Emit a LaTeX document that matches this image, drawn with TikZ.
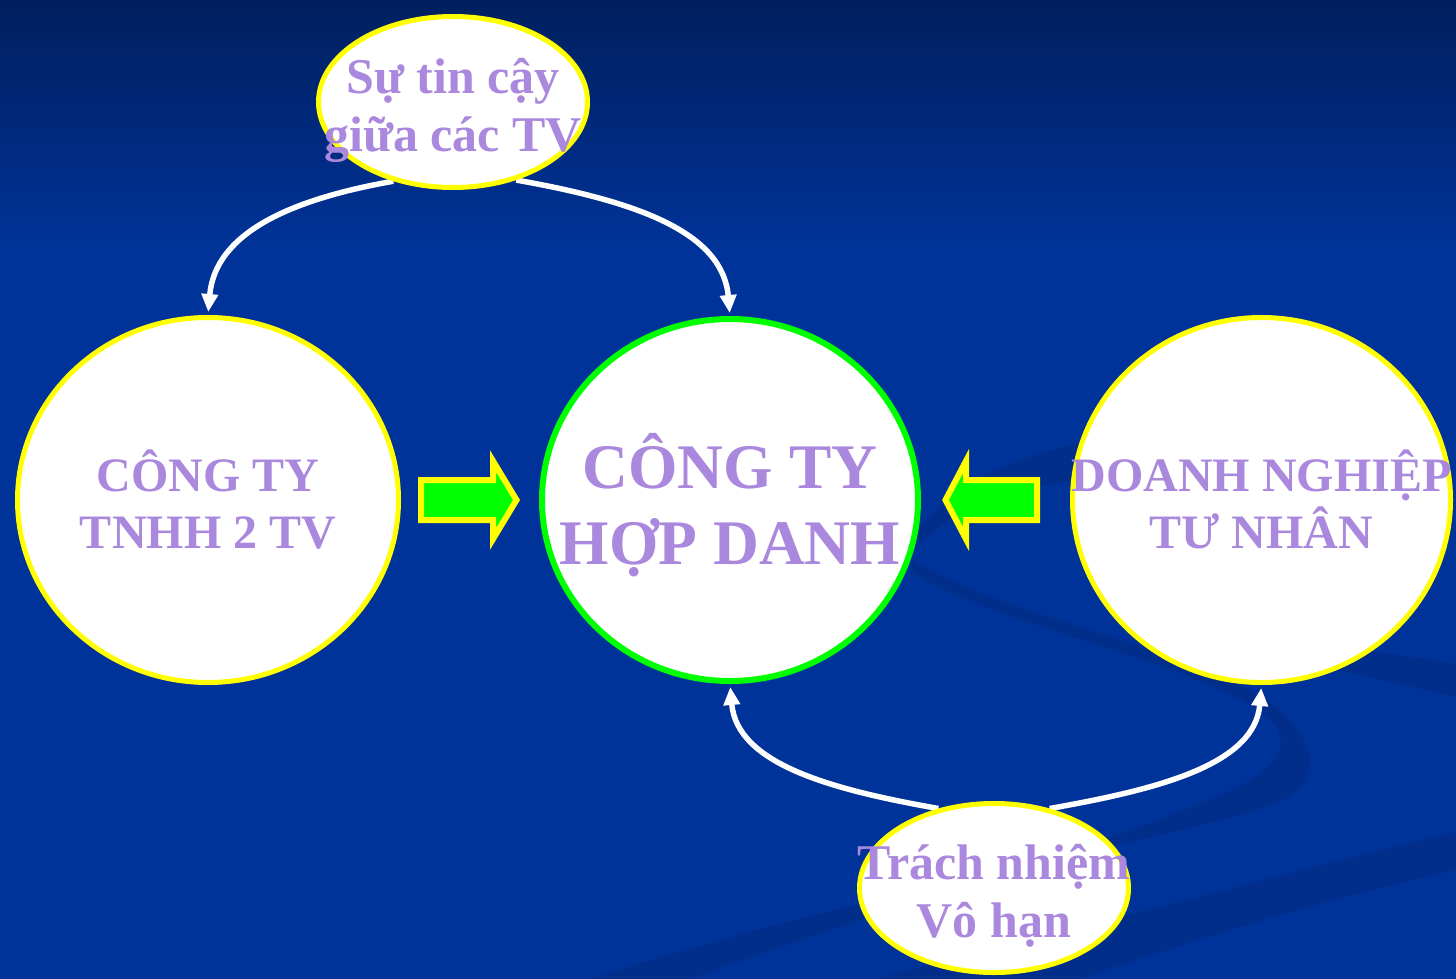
\documentclass[tikz,border=0pt]{standalone}
\usepackage{fontspec}
\setmainfont{Liberation Serif}
\usetikzlibrary{shapes.geometric,arrows.meta}
\definecolor{bgblue}{RGB}{0,51,153}
\definecolor{bgtop}{RGB}{0,31,94}
\definecolor{swoosh}{RGB}{0,46,138}
\definecolor{lav}{RGB}{170,136,221}
\definecolor{ylw}{RGB}{255,255,0}
\definecolor{grn}{RGB}{0,255,0}
\pgfdeclarelayer{bg}
\pgfdeclarelayer{links}
\pgfsetlayers{bg,links,main}

\begin{document}
\begin{tikzpicture}[x=1pt,y=-1pt,
  bubble/.style={ellipse, draw=ylw, line width=5pt, fill=white, inner sep=0pt},
  hub/.style={bubble, draw=grn, line width=6pt},
  txt/.style={text=lav, font=\bfseries\fontsize{48}{57}\selectfont, align=center, inner sep=0pt},
  smalltxt/.style={txt, font=\bfseries\fontsize{50}{58}\selectfont},
  bigtxt/.style={txt, font=\bfseries\fontsize{63.5}{76}\selectfont},
  link/.style={draw=white, line width=5.5pt, shorten >=3pt,
               -{Triangle[length=18pt,width=16pt]}},
  block/.style={draw=ylw, line width=6pt, fill=grn, line join=miter, miter limit=10}
]
\useasboundingbox (0,0) rectangle (1456,979);

% backdrop: gradient sky and darker swooshes
\begin{pgfonlayer}{bg}
  \fill[bgblue] (0,250) rectangle (1456,979);
  \shade[top color=bgtop, bottom color=bgblue] (0,0) rectangle (1456,251);
  % thin band rising from the hub towards the right bubble
  \fill[swoosh] (915,532) .. controls (960,482) and (1000,462) .. (1090,440)
        -- (1090,478) .. controls (1000,490) and (950,512) .. (915,548) -- cycle;
  \fill[swoosh] (1320,645) .. controls (1380,652) and (1420,658) .. (1456,664)
        -- (1456,697) .. controls (1420,688) and (1380,680) .. (1330,668) -- cycle;
  % hooked band
  \fill[swoosh] (912,560) .. controls (1000,615) and (1180,645) .. (1262,698)
        .. controls (1312,730) and (1330,778) .. (1280,801)
        .. controls (1200,836) and (900,880) .. (590,979)
        -- (690,979) .. controls (900,902) and (1150,832) .. (1240,786)
        .. controls (1290,760) and (1290,735) .. (1262,712)
        .. controls (1180,657) and (1000,627) .. (912,572) -- cycle;
  % lower diagonal band
  \fill[swoosh] (876,979) .. controls (1100,922) and (1300,870) .. (1456,832)
        -- (1456,870) .. controls (1300,905) and (1180,945) .. (1080,979) -- cycle;
\end{pgfonlayer}

% bubbles
\node[bubble, minimum width=269pt, minimum height=171pt] (trust) at (453,102) {};
\node[bubble, minimum width=381pt, minimum height=365pt] (llc)   at (208,500) {};
\node[hub,    minimum width=376pt, minimum height=362pt] (part)  at (730,500) {};
\node[bubble, minimum width=378pt, minimum height=365pt] (sole)  at (1261.5,500) {};
\node[bubble, minimum width=269pt, minimum height=169pt] (liab)  at (994,888) {};

% captions
\node[smalltxt] (trustT) at (453,110) {Sự tin cậy\\giữa các TV};
\node[txt]      (llcT)   at (208,500) {CÔNG TY\\TNHH 2 TV};
\node[bigtxt]   (partT)  at (730,505) {CÔNG TY\\HỢP DANH};
\node[txt]      (soleT)  at (1261.5,499) {DOANH NGHIỆP\\TƯ NHÂN};
\node[smalltxt] (liabT)  at (994,896) {Trách nhiệm\\Vô hạn};

% curved links
\begin{pgfonlayer}{links}
  \draw[link] (trust.233) to[out=190, in=85, out distance=110pt, in distance=80pt] (llc.north);
  \draw[link] (trust.309) to[out=-10, in=95, out distance=120pt, in distance=85pt] (part.north);
  \draw[link] (liab.125) to[out=170, in=275, out distance=110pt, in distance=80pt] (part.south);
  \draw[link] (liab.55)  to[out=10,  in=265, out distance=110pt, in distance=80pt] (sole.south);
\end{pgfonlayer}

% block arrows pointing at the hub
\draw[block] (421,480) -- (493,480) -- (493,461) -- (516.5,500) -- (493,539)
      -- (493,520) -- (421,520) -- cycle;
\draw[block] (1037,480) -- (966,480) -- (966,461) -- (945.5,500) -- (966,539)
      -- (966,520) -- (1037,520) -- cycle;
\end{tikzpicture}
\end{document}
